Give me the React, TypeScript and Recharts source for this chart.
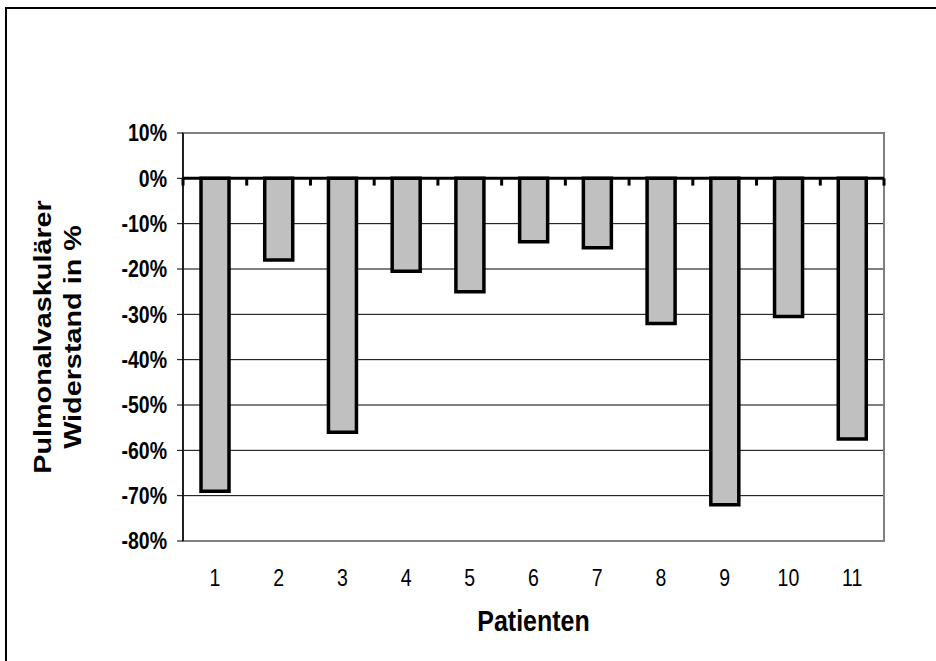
import React from "react";
import {
  BarChart,
  Bar,
  XAxis,
  YAxis,
  CartesianGrid,
  ReferenceLine,
  ReferenceArea,
  Label,
} from "recharts";

const patients = ["1", "2", "3", "4", "5", "6", "7", "8", "9", "10", "11"];
const resistanceChange = [-69, -18, -56, -20.5, -25, -14, -15.3, -32, -72, -30.5, -57.5];
const yTicks = [10, 0, -10, -20, -30, -40, -50, -60, -70, -80];

const data = patients.map((p, i) => ({ name: p, value: resistanceChange[i] }));

const FONT = "'Liberation Sans', Arial, sans-serif";
// the original picture is stretched a bit vertically, text too
const STRETCH = 1.2;

const XTick = (props: any) => {
  const { x, y, payload } = props;
  return (
    <g transform={`translate(${x},${y}) scale(1,${STRETCH})`}>
      <text x={0} y={0} dy="0.71em" textAnchor="middle" fontFamily={FONT} fontSize={19.5} fill="#000">
        {payload.value}
      </text>
    </g>
  );
};

const YTick = (props: any) => {
  const { x, y, payload } = props;
  return (
    <g transform={`translate(${x},${y}) scale(1,${STRETCH})`}>
      <text x={0} y={0} dy="0.355em" textAnchor="end" fontFamily={FONT} fontSize={19.5} fontWeight="bold" fill="#000">
        {`${payload.value}%`}
      </text>
    </g>
  );
};

const XTitle = (props: any) => {
  const vb = props.viewBox || { x: 183, width: 701 };
  const cx = vb.x + vb.width / 2;
  return (
    <g transform={`translate(${cx},631) scale(1,${STRETCH})`}>
      <text x={0} y={0} textAnchor="middle" fontFamily={FONT} fontWeight="bold" fontSize={25} fill="#000">
        Patienten
      </text>
    </g>
  );
};

const YTitle = (props: any) => {
  const cy = props.viewBox ? props.viewBox.y + props.viewBox.height / 2 : 337;
  const lines = [
    { text: "Pulmonalvaskulärer", x: 51 },
    { text: "Widerstand in %", x: 81 },
  ];
  return (
    <g>
      {lines.map((l) => (
        <g key={l.text} transform={`translate(${l.x},${cy}) rotate(-90) scale(${STRETCH},1)`}>
          <text x={0} y={0} textAnchor="middle" fontFamily={FONT} fontWeight="bold" fontSize={24} fill="#000">
            {l.text}
          </text>
        </g>
      ))}
    </g>
  );
};

const App = () => {
  return (
    <div style={{ position: "absolute", left: 0, top: 0, width: 936, height: 661, overflow: "hidden", background: "#fff" }}>
      <div
        style={{
          position: "absolute",
          left: 5,
          top: 7,
          width: 960,
          height: 700,
          border: "2px solid #000",
          boxSizing: "border-box",
        }}
      />
      <BarChart
        width={936}
        height={661}
        data={data}
        margin={{ top: 133, right: 52, left: 0, bottom: 0 }}
        barSize={28}
        style={{ position: "absolute", left: 0, top: 0 }}
      >
        <CartesianGrid horizontal vertical={false} stroke="#000" strokeOpacity={1} />
        <ReferenceArea y1={-80} y2={10} fill="none" stroke="#808080" strokeWidth={2} ifOverflow="visible" />
        <XAxis
          dataKey="name"
          height={120}
          axisLine={false}
          tickLine={false}
          tickSize={6}
          tickMargin={22}
          tick={<XTick />}
        >
          <Label content={<XTitle />} />
        </XAxis>
        <YAxis
          width={183}
          domain={[-80, 10]}
          ticks={yTicks}
          interval={0}
          axisLine={{ stroke: "#000", strokeWidth: 1.5 }}
          tickLine={{ stroke: "#000" }}
          tickSize={6}
          tickMargin={10}
          tick={<YTick />}
        >
          <Label content={<YTitle />} />
        </YAxis>
        <Bar
          dataKey="value"
          fill="#c0c0c0"
          stroke="#000"
          strokeWidth={3.5}
          isAnimationActive={false}
        />
        <ReferenceLine y={0} stroke="#000" strokeWidth={3} />
        {patients.map((p) => (
          <ReferenceLine
            key={`t${p}`}
            segment={[{ x: p, y: 0 }, { x: p, y: -1.6 }]}
            position="start"
            stroke="#000"
            strokeWidth={3}
          />
        ))}
        <ReferenceLine
          segment={[{ x: "11", y: 0 }, { x: "11", y: -1.6 }]}
          position="end"
          stroke="#000"
          strokeWidth={3}
        />
      </BarChart>
    </div>
  );
};

export default App;
